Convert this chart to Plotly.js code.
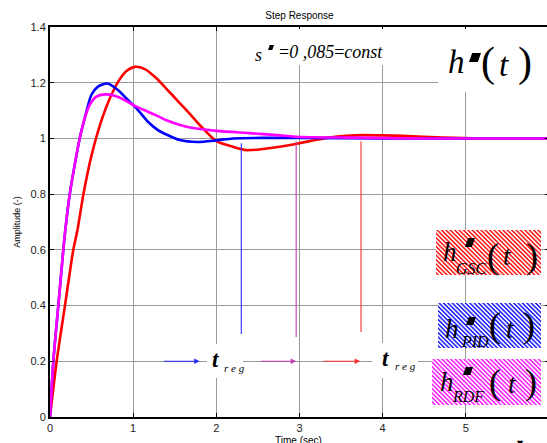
<!DOCTYPE html>
<html>
<head>
<meta charset="utf-8">
<script src="https://cdn.plot.ly/plotly-3.0.1.min.js"></script>
<style>
html,body{margin:0;padding:0;background:#fff;overflow:hidden;width:547px;height:443px;}
#chart{width:552px;height:443px;}
</style>
</head>
<body>
<div id="chart"></div>
<script>
// ---- data ----
const tGSC = [0, 0.08, 0.18, 0.28, 0.33, 0.4, 0.5, 0.62, 0.72, 0.82, 0.92, 1.02, 1.14, 1.28, 1.4, 1.56, 1.7, 1.82, 2.0, 2.2, 2.36, 2.56, 2.76, 3.0, 3.2, 3.36, 3.56, 3.76, 4.0, 4.24, 4.72, 5.2, 6.0];
const yGSC = [0, 0.2, 0.4, 0.6, 0.671, 0.797, 0.94, 1.066, 1.144, 1.204, 1.242, 1.257, 1.249, 1.216, 1.178, 1.127, 1.082, 1.042, 0.99, 0.97, 0.958, 0.962, 0.97, 0.983, 0.995, 1.003, 1.009, 1.012, 1.011, 1.009, 1.003, 1.0, 1.0];

const tPID = [0, 0.04, 0.1, 0.16, 0.184, 0.236, 0.297, 0.357, 0.417, 0.497, 0.577, 0.689, 0.817, 0.937, 1.058, 1.178, 1.298, 1.4, 1.56, 1.77, 2.0, 2.2, 2.6, 3.0, 4.0, 5.0, 6.0];
const yPID = [0, 0.2, 0.4, 0.6, 0.671, 0.797, 0.905, 1.0, 1.072, 1.156, 1.186, 1.197, 1.174, 1.138, 1.102, 1.06, 1.03, 1.014, 0.994, 0.987, 0.993, 1.0, 1.002, 1.002, 1.0, 1.0, 1.0];

const tRDF = [0, 0.04, 0.1, 0.16, 0.184, 0.236, 0.297, 0.357, 0.417, 0.477, 0.557, 0.657, 0.777, 0.897, 1.018, 1.178, 1.298, 1.4, 1.64, 2.0, 2.4, 2.73, 3.04, 3.64, 4.5, 6.0];
const yRDF = [0, 0.2, 0.4, 0.6, 0.671, 0.797, 0.905, 1.0, 1.072, 1.12, 1.15, 1.158, 1.153, 1.138, 1.117, 1.096, 1.08, 1.065, 1.042, 1.027, 1.019, 1.012, 1.005, 1.003, 1.0, 1.0];

// settling-time markers (PID, RDF, GSC)
const tRegNames = ['PID', 'RDF', 'GSC'];
const tRegX = [2.3, 2.96, 3.74];
const tRegTop = [0.983, 0.99, 0.99];
const tRegBottom = [0.298, 0.287, 0.305];
const arrowStart = [1.35, 2.52, 3.27];
const arrowEnd = [1.8, 2.96, 3.73];
const arrowLevel = 0.2;

const xTicks = [0, 1, 2, 3, 4, 5];
const yTicks = [0, 0.2, 0.4, 0.6, 0.8, 1, 1.2, 1.4];
const yTickText = ['0', '0.2', '0.4', '0.6', '0.8', '1', '1.2', '1.4'];

// ---- styling ----
const markColors = ['#2a2aff', '#c23fb0', '#ff3030'];
const serif = 'Liberation Serif, Times New Roman, serif';
const sans = 'Arial, Liberation Sans, sans-serif';
const L = 50, T = 27, PW = 499, PH = 390;
const X = px => (px - L) / PW;
const Y = py => (T + PH - py) / PH;

const lineStyle = c => ({color: c, width: 2.6, shape: 'spline', smoothing: 0.7});
const ordered = [
  {x: tGSC, y: yGSC, mode: 'lines', line: lineStyle('#ff0000'), hoverinfo: 'skip'},
  {x: tPID, y: yPID, mode: 'lines', line: lineStyle('#0000ff'), hoverinfo: 'skip'},
  {x: tRDF, y: yRDF, mode: 'lines', line: lineStyle('#ff00ff'), hoverinfo: 'skip'}
];
for (let i = 0; i < tRegX.length; i++) {
  ordered.push({x: [tRegX[i], tRegX[i]], y: [tRegTop[i], tRegBottom[i]], mode: 'lines',
    line: {color: markColors[i], width: 1.1}, hoverinfo: 'skip'});
}

function hatch(color, w, h) {
  const svg = "<svg xmlns='http://www.w3.org/2000/svg' width='" + w + "' height='" + h + "' viewBox='0 0 " + w + " " + h + "' preserveAspectRatio='none'>" +
    "<defs><pattern id='p' width='3.1' height='3.1' patternUnits='userSpaceOnUse' patternTransform='rotate(-45)'>" +
    "<rect width='3.1' height='3.1' fill='white'/><rect width='1.6' height='3.1' fill='" + color + "'/></pattern></defs>" +
    "<rect width='100%' height='100%' fill='url(#p)'/></svg>";
  return 'data:image/svg+xml;charset=utf-8,' + encodeURIComponent(svg);
}
// sq = [left, top, right, bottom] of the slanted "prime" block
const boxes = [
  {c: '#ff2020', x0: 436, x1: 541, y0: 230, y1: 275, sub: 'GSC',
   h: [450, 252], s: [471, 268], sq: [465, 238, 475, 247], lp: [493, 256], t: [507, 256], rp: [532, 256]},
  {c: '#2828ff', x0: 438, x1: 541, y0: 303, y1: 348, sub: 'PID',
   h: [452, 329], s: [475, 341], sq: [466, 317, 476, 325], lp: [495, 325], t: [510, 329], rp: [529, 325]},
  {c: '#ff28ff', x0: 432, x1: 541, y0: 359, y1: 405, sub: 'RDF',
   h: [447, 382], s: [468, 396], sq: [463, 367, 473, 375], lp: [495, 382], t: [512, 384], rp: [531, 382]}
];
const images = boxes.map(b => ({
  source: hatch(b.c, b.x1 - b.x0, b.y1 - b.y0), xref: 'paper', yref: 'paper',
  x: X(b.x0), y: Y(b.y0), sizex: (b.x1 - b.x0) / PW, sizey: (b.y1 - b.y0) / PH,
  xanchor: 'left', yanchor: 'top', sizing: 'stretch', layer: 'above'
}));

const annotations = [];
function txt(text, cx, cy, size, italic, family) {
  annotations.push({xref: 'paper', yref: 'paper', x: X(cx), y: Y(cy), xanchor: 'center', yanchor: 'middle',
    showarrow: false, borderpad: 0, text: italic ? '<i>' + text + '</i>' : text,
    font: {family: family || serif, size: size, color: '#000'}});
}
// white boxes that hide the grid behind the texts
const whiteBoxes = [[250, 29, 396, 65], [438, 29, 552, 92], [207, 344, 243, 378], [372, 343, 418, 378]];
const shapes = whiteBoxes.map(r => ({type: 'rect', xref: 'paper', yref: 'paper', x0: X(r[0]), x1: X(r[2]), y0: Y(r[3]), y1: Y(r[1]),
  fillcolor: '#fff', line: {width: 0}, layer: 'above'}));
// slanted black "prime" blocks
function primeBlock(l, t, r, b) {
  const sl = (b - t) * 0.35;
  const path = 'M' + X(l) + ',' + Y(b) + ' L' + X(l + sl) + ',' + Y(t) + ' L' + X(r) + ',' + Y(t) + ' L' + X(r - sl) + ',' + Y(b) + ' Z';
  shapes.push({type: 'path', xref: 'paper', yref: 'paper', path: path, fillcolor: '#000', line: {width: 0}, layer: 'above'});
}
primeBlock(268, 45, 274, 50);
primeBlock(469, 53, 481, 62);
boxes.forEach(b => primeBlock(b.sq[0], b.sq[1], b.sq[2], b.sq[3]));

// s' = 0,085 = const
txt('s', 258.5, 55, 18, true);
annotations.push({xref: 'paper', yref: 'paper', x: X(278), y: Y(52), xanchor: 'left', yanchor: 'middle', showarrow: false, borderpad: 0,
  text: "=<i>0 ,085</i>=<i>const</i>", font: {family: serif, size: 18, color: '#000'}});
// big h'(t)
txt('h', 456, 62, 33, true);
txt('(', 488, 62, 42, false);
txt('t', 504, 65, 33, true);
txt(')', 525, 62, 42, false);
// hatched labels
boxes.forEach(b => {
  txt('h', b.h[0], b.h[1], 27, true);
  txt(b.sub, b.s[0], b.s[1], 16, true);
  txt('(', b.lp[0], b.lp[1], 36, false);
  txt('t', b.t[0], b.t[1], 27, true);
  txt(')', b.rp[0], b.rp[1], 36, false);
});
// arrows toward t_reg
for (let i = 0; i < arrowStart.length; i++) {
  annotations.push({x: arrowEnd[i], y: arrowLevel, ax: arrowStart[i], ay: arrowLevel, xref: 'x', yref: 'y', axref: 'x', ayref: 'y',
    text: '', showarrow: true, arrowhead: 2, arrowsize: 1, arrowwidth: 1.1, arrowcolor: markColors[i], standoff: 0, startstandoff: 0});
}
// t_reg labels
txt('<b>t</b>', 215, 359, 23, true);
txt('r e g', 234, 368, 11, true);
txt('<b>t</b>', 385, 358, 23, true);
txt('r e g', 405, 366, 11, true);
// x axis title (partly below the bottom edge, as in the reference)
txt('Time (sec)', 298, 440, 10, false, sans);
// small mark at the bottom edge
txt('▼', 520, 443, 8, false, 'DejaVu Sans');

const axisFont = {family: sans, size: 11, color: '#222'};
const layout = {
  width: 552, height: 443,
  margin: {l: L, r: 552 - L - PW, t: T, b: 443 - T - PH, pad: 0},
  paper_bgcolor: '#fff', plot_bgcolor: '#fff',
  showlegend: false,
  title: {text: 'Step Response', font: {family: sans, size: 10, color: '#000'},
    xref: 'paper', x: 0.5, xanchor: 'center', yref: 'container', y: 1 - 15 / 443, yanchor: 'middle'},
  xaxis: {range: [0, 6], tickvals: xTicks, ticktext: xTicks.map(String), showgrid: true, gridcolor: '#9a9a9a', gridwidth: 1,
    zeroline: false, showline: true, linecolor: '#000', linewidth: 2, mirror: 'ticks', ticks: 'inside', ticklen: 4, tickcolor: '#000',
    tickfont: axisFont, fixedrange: true},
  yaxis: {range: [0, 1.4], tickvals: yTicks, ticktext: yTickText, showgrid: true, gridcolor: '#9a9a9a', gridwidth: 1,
    zeroline: false, showline: true, linecolor: '#000', linewidth: 2, mirror: 'ticks', ticks: 'inside', ticklen: 4, tickcolor: '#000',
    tickfont: axisFont, title: {text: 'Amplitude (-)', font: {family: sans, size: 9, color: '#000'}, standoff: 8},
    fixedrange: true},
  shapes: shapes,
  images: images,
  annotations: annotations
};
Plotly.newPlot('chart', ordered, layout, {staticPlot: true, displayModeBar: false});
</script>
</body>
</html>
